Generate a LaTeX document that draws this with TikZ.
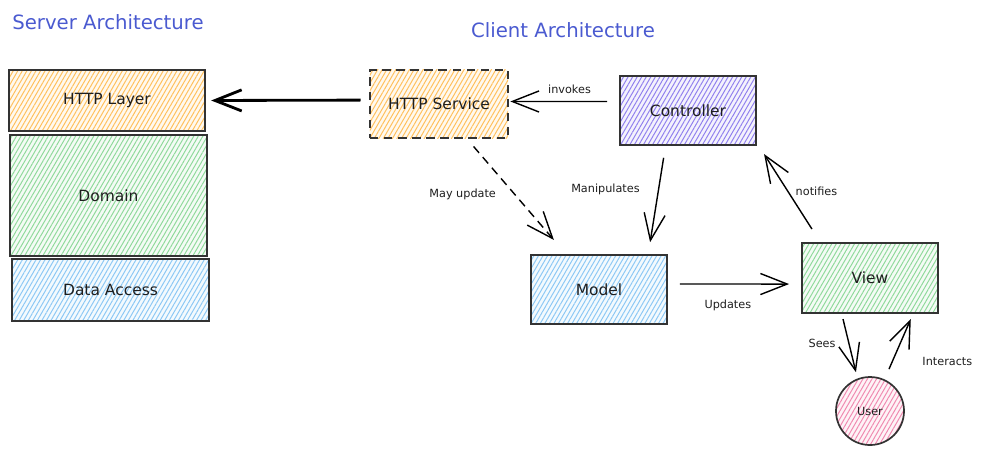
\documentclass[tikz,border=0pt]{standalone}
\usepackage{fontspec}
\setmainfont{DejaVu Sans}
\usetikzlibrary{%
  arrows.meta,%
  patterns.meta,% hatch fill
  positioning,%
  calc%
}
\definecolor{titleblue}{HTML}{4A5AD0}
\definecolor{inkblack}{HTML}{1E1E1E}
\definecolor{hatchorange}{HTML}{FFC05C}
\definecolor{hatchgreen}{HTML}{8FD99B}
\definecolor{hatchblue}{HTML}{8CC8F5}
\definecolor{hatchpurple}{HTML}{9080EE}
\definecolor{hatchpink}{HTML}{F08AB0}

\begin{document}
\begin{tikzpicture}[
  x=0.025cm, y=-0.025cm,
  font=\fontsize{11}{13}\selectfont, text=inkblack,
  >={Straight Barb[length=19pt,width=15pt]}, line width=1pt,
  hatch/.style={preaction={fill=#1!10},
    pattern={Lines[angle=60,distance=2.8pt,line width=0.7pt]}, pattern color=#1},
  box/.style={draw=black!80, line width=1.4pt, rectangle, inner sep=0pt},
  lbl/.style={font=\fontsize{8}{10}\selectfont, inner sep=1pt},
  title/.style={font=\fontsize{14}{16}\selectfont, text=titleblue}
]
\useasboundingbox (0,0) rectangle (986,456);

\node[title] (servertitle) at (108,22) {Server Architecture};
\node[title] (clienttitle) at (563,30) {Client Architecture};

\foreach \name/\txt/\xc/\yc/\h/\col in {%
  httplayer/HTTP Layer/107/100.5/1.525/hatchorange,
  domain/Domain/108.5/195.5/3.025/hatchgreen,
  dataaccess/Data Access/110.5/290/1.55/hatchblue} {
  \node[box, hatch=\col, minimum width=4.9cm, minimum height=\h cm]
    (\name) at (\xc,\yc) {\txt};
}

\node[box, dashed, dash pattern=on 6pt off 4pt, hatch=hatchorange,
  minimum width=3.45cm, minimum height=1.7cm] (httpservice) at (439,104) {HTTP Service};
\node[box, hatch=hatchpurple, minimum width=3.4cm, minimum height=1.725cm]
  (controller) at (688,110.5) {Controller};
\node[box, hatch=hatchblue, minimum width=3.4cm, minimum height=1.725cm]
  (model) at (599,289.5) {Model};
\node[box, hatch=hatchgreen, minimum width=3.4cm, minimum height=1.75cm]
  (view) at (870,278) {View};
\node[circle, draw=black!80, line width=1.2pt, hatch=hatchpink, minimum size=1.7cm,
  inner sep=0pt, font=\fontsize{8}{10}\selectfont] (user) at (870,411) {User};

\draw[->, line width=2pt, shorten <=6pt, shorten >=4pt]
  ([yshift=2.8pt]httpservice.west) -- (httplayer.east);
\draw[->, shorten <=8.5pt, shorten >=1pt]
  ([yshift=6.4pt]controller.west) -- ([yshift=1.8pt]httpservice.east)
  node[lbl, pos=0.45, above=4pt] {invokes};
\draw[->, shorten <=8.5pt, shorten >=8.5pt]
  ([xshift=-16pt]controller.south) -- ([xshift=35pt]model.north)
  node[lbl, pos=0.4, left=12pt] {Manipulates};
\draw[->, dashed, dash pattern=on 6pt off 4pt, shorten <=7pt]
  ([xshift=20pt]httpservice.south) -- ([shift={(17pt,10pt)}]model.north west)
  node[lbl, pos=0.55, left=12pt] {May update};
\draw[->, shorten <=8.5pt, shorten >=8.5pt]
  ([yshift=3.9pt]model.east) -- ([yshift=-4.3pt]view.west)
  node[lbl, pos=0.45, below=10pt] {Updates};
\draw[->]
  ([shift={(7.8pt,9.2pt)}]view.north west) -- ([shift={(5pt,-5.7pt)}]controller.south east)
  node[lbl, pos=0.5, right=4pt] {notifies};
\draw[->]
  ([shift={(-19.2pt,-3.6pt)}]view.south) -- ([shift={(-10pt,2.8pt)}]user.north)
  node[lbl, pos=0.45, left=8pt] {Sees};
\draw[->]
  ([shift={(13.5pt,5pt)}]user.north) -- ([shift={(29pt,-3.6pt)}]view.south)
  node[lbl, pos=0.15, right=20pt] {Interacts};

\end{tikzpicture}
\end{document}
